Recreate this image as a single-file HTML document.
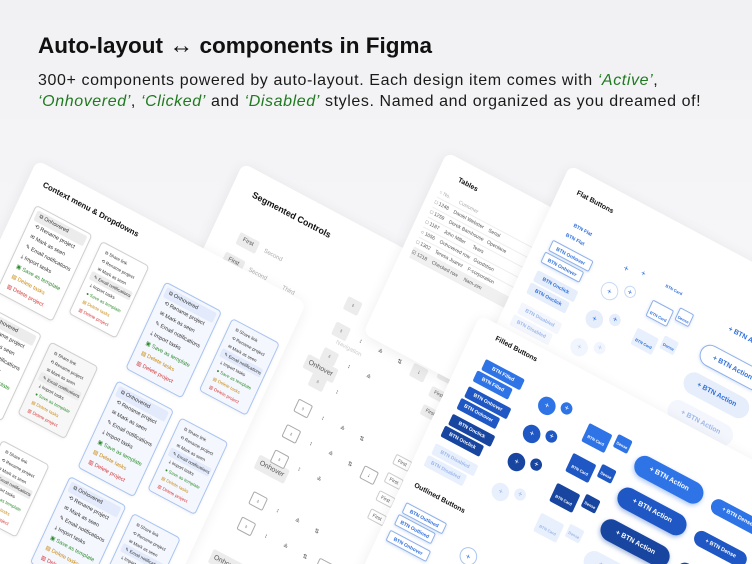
<!DOCTYPE html>
<html><head><meta charset="utf-8"><style>
*{margin:0;padding:0;box-sizing:border-box}
html,body{width:752px;height:564px;overflow:hidden}
body{background:linear-gradient(180deg,#f1f1f3 0%,#f6f6f8 45%,#fbfbfc 100%);font-family:"Liberation Sans",sans-serif;position:relative}
h1{position:absolute;left:38px;top:32px;font-size:22.5px;font-weight:bold;color:#111;letter-spacing:0px;white-space:nowrap}
h1 span{font-size:24px;font-weight:normal}
p.sub{position:absolute;left:38px;top:70px;font-size:16px;line-height:21px;color:#1a1a1a;width:714px;letter-spacing:0.6px;white-space:nowrap}
p.sub i{color:#1f7a1f}
.card{position:absolute;background:#fff;border-radius:8px;box-shadow:0 2px 14px rgba(0,0,0,.07);transform-origin:0 0;transform:matrix(0.883,0.469,-0.42,0.907,0,0);overflow:hidden}
.a{position:absolute}
.t{position:absolute;font-size:8px;font-weight:bold;color:#111;white-space:nowrap}
.m{position:absolute;border:1px solid #cfcfcf;border-radius:4px;background:#fff;padding:3px;font-size:5.5px;color:#333;box-shadow:0 1px 3px rgba(0,0,0,.06)}
.m div{height:11px;line-height:11px;padding-left:4px;white-space:nowrap}
.m .h{background:#ececec;border-radius:2px}
.mb{border-color:#a9c4f2;background:#f4f7fe}
.mb .h{background:#e2eafb}
.s .gr{color:#2e8b2e}.s .or{color:#c98a12}.s .rd{color:#d63a3a}
.m.sm{font-size:4.5px}.m.sm div{height:9px;line-height:9px}
.b{position:absolute;height:12px;line-height:12px;border-radius:2px;background:#2f74e6;color:#fff;font-size:5px;font-weight:bold;text-align:center;white-space:nowrap}
.b.d{background:#1f58c4}.b.dd{background:#17459f}
.b.l{background:#e9f0fd;color:#9db7ea}
.b.o{background:#fff;border:1px solid #8fb0e8;color:#2f6fdb;box-shadow:0 1px 3px rgba(47,111,219,.2)}
.b.f{background:none;color:#2f6fdb}
.p{border-radius:12px;height:22px;line-height:22px;font-size:7px}
.c{position:absolute;border-radius:50%;background:#2f74e6;color:#fff;font-size:8px;text-align:center}
.g{position:absolute;background:#ececec;border-radius:2px;font-size:6px;color:#555;text-align:center;line-height:13px}
.ic{position:absolute;width:16px;height:14px;border-radius:2px;font-size:6px;color:#555;text-align:center;line-height:14px}
.ic.k{background:#ececec}.ic.w{border:1px solid #aaa;background:#fff}
.tx{position:absolute;font-size:6px;color:#aaa;white-space:nowrap}
.row{position:absolute;left:10px;width:150px;height:11px;border-bottom:1px solid #eee;font-size:5px;color:#555;line-height:11px;white-space:nowrap}
</style></head><body>
<h1>Auto-layout <span>↔</span> components in Figma</h1>
<p class="sub">300+ components powered by auto-layout. Each design item comes with <i>‘Active’</i>,<br><i>‘Onhovered’</i>, <i>‘Clicked’</i> and <i>‘Disabled’</i> styles. Named and organized as you dreamed of!</p>

<!-- Segmented controls -->
<div class="card" style="left:243px;top:163px;width:310px;height:600px">
 <div class="t" style="left:22px;top:18px;font-size:9px">Segmented Controls</div>
 <div class="g" style="left:27px;top:62px;width:22px;height:13px">First</div><div class="tx" style="left:56px;top:65px">Second</div>
 <div class="g" style="left:22px;top:86px;width:22px;height:13px">First</div><div class="tx" style="left:50px;top:89px">Second</div><div class="tx" style="left:88px;top:89px">Third</div>
 <div class="tx" style="left:160px;top:112px;color:#ccc">Navigation</div>
 <div class="g" style="left:140px;top:138px;width:34px;height:15px;font-size:7px;line-height:15px">Onhover</div>
 <div class="g" style="left:138px;top:250px;width:34px;height:15px;font-size:7px;line-height:15px">Onhover</div>
 <div class="g" style="left:136px;top:355px;width:34px;height:15px;font-size:7px;line-height:15px">Onhover</div>
 <div class="ic k" style="left:152px;top:68px">♁</div><div class="ic" style="left:174px;top:68px">↕</div><div class="ic" style="left:196px;top:68px">≗</div><div class="ic" style="left:218px;top:68px">⇅</div>
 <div class="ic k" style="left:152px;top:96px">♁</div><div class="ic" style="left:174px;top:96px">↕</div><div class="ic" style="left:196px;top:96px">≗</div><div class="ic" style="left:218px;top:96px">⇅</div><div class="ic k" style="left:240px;top:96px">↓</div>
 <div class="ic k" style="left:152px;top:124px">♁</div><div class="ic" style="left:174px;top:124px">↕</div><div class="ic" style="left:196px;top:124px">≗</div>
 <div class="ic k" style="left:152px;top:152px">♁</div><div class="ic" style="left:174px;top:152px">↕</div>
 <div class="ic w" style="left:150px;top:182px">♁</div><div class="ic" style="left:172px;top:182px">↕</div><div class="ic" style="left:194px;top:182px">≗</div><div class="ic" style="left:216px;top:182px">⇅</div>
 <div class="ic w" style="left:150px;top:210px">♁</div><div class="ic" style="left:172px;top:210px">↕</div><div class="ic" style="left:194px;top:210px">≗</div><div class="ic" style="left:216px;top:210px">⇅</div><div class="ic w" style="left:238px;top:210px">↓</div>
 <div class="ic w" style="left:150px;top:238px">♁</div><div class="ic" style="left:172px;top:238px">↕</div><div class="ic" style="left:194px;top:238px">≗</div>
 <div class="ic w" style="left:148px;top:285px">♁</div><div class="ic" style="left:170px;top:285px">↕</div><div class="ic" style="left:192px;top:285px">≗</div><div class="ic" style="left:214px;top:285px">⇅</div>
 <div class="ic w" style="left:148px;top:313px">♁</div><div class="ic" style="left:170px;top:313px">↕</div><div class="ic" style="left:192px;top:313px">≗</div><div class="ic" style="left:214px;top:313px">⇅</div><div class="ic w" style="left:236px;top:313px">↓</div>
 <div class="g" style="left:266px;top:68px;width:18px;height:11px;line-height:11px;font-size:5px">First</div>
 <div class="g" style="left:266px;top:88px;width:18px;height:11px;line-height:11px;font-size:5px">First</div>
 <div class="g" style="left:266px;top:108px;width:18px;height:11px;line-height:11px;font-size:5px">First</div>
 <div class="g" style="left:266px;top:128px;width:18px;height:11px;line-height:11px;font-size:5px">First</div>
 <div class="g" style="left:262px;top:185px;width:18px;height:11px;line-height:11px;font-size:5px;background:#fff;border:1px solid #ccc">First</div>
 <div class="g" style="left:262px;top:205px;width:18px;height:11px;line-height:11px;font-size:5px;background:#fff;border:1px solid #ccc">First</div>
 <div class="g" style="left:262px;top:225px;width:18px;height:11px;line-height:11px;font-size:5px;background:#fff;border:1px solid #ccc">First</div>
 <div class="g" style="left:262px;top:245px;width:18px;height:11px;line-height:11px;font-size:5px;background:#fff;border:1px solid #ccc">First</div>
</div>

<!-- Context menu card -->
<div class="card" style="left:37px;top:160px;width:305px;height:640px">
 <div class="t" style="left:16px;top:14px">Context menu &amp; Dropdowns</div>
 <div class="m s" style="left:18px;top:40px;width:64px"><div class="h">⧉ Onhovered</div><div>⟲ Rename project</div><div>✉ Mark as seen</div><div>✎ Email notifications</div><div>⤓ Import tasks</div><div class="gr">▣ Save as template</div><div class="or">▤ Delete tasks</div><div class="rd">▥ Delete project</div></div>
 <div class="m s sm" style="left:93px;top:41px;width:54px"><div>⧉ Share link</div><div>⟲ Rename project</div><div>✉ Mark as seen</div><div class="h">✎ Email notifications</div><div>⤓ Import tasks</div><div class="gr">● Save as template</div><div class="or">▤ Delete tasks</div><div class="rd">▥ Delete project</div></div>
 <div class="m s mb" style="left:168px;top:47px;width:64px"><div class="h">⧉ Onhovered</div><div>⟲ Rename project</div><div>✉ Mark as seen</div><div>✎ Email notifications</div><div>⤓ Import tasks</div><div class="gr">▣ Save as template</div><div class="or">▤ Delete tasks</div><div class="rd">▥ Delete project</div></div>
 <div class="m s sm mb" style="left:244px;top:48px;width:54px"><div>⧉ Share link</div><div>⟲ Rename project</div><div>✉ Mark as seen</div><div class="h">✎ Email notifications</div><div>⤓ Import tasks</div><div class="gr">● Save as template</div><div class="or">▤ Delete tasks</div><div class="rd">▥ Delete project</div></div>
 <div class="m s" style="left:14px;top:152px;width:64px"><div class="h">⧉ Onhovered</div><div>⟲ Rename project</div><div>✉ Mark as seen</div><div>✎ Email notifications</div><div>⤓ Import tasks</div><div class="gr">▣ Save as template</div><div class="or">▤ Delete tasks</div><div class="rd">▥ Delete project</div></div>
 <div class="m s sm" style="left:89px;top:154px;width:54px;background:#f7f7f7"><div>⧉ Share link</div><div>⟲ Rename project</div><div>✉ Mark as seen</div><div class="h">✎ Email notifications</div><div>⤓ Import tasks</div><div class="gr">● Save as template</div><div class="or">▤ Delete tasks</div><div class="rd">▥ Delete project</div></div>
 <div class="m s mb" style="left:166px;top:157px;width:64px"><div class="h">⧉ Onhovered</div><div>⟲ Rename project</div><div>✉ Mark as seen</div><div>✎ Email notifications</div><div>⤓ Import tasks</div><div class="gr">▣ Save as template</div><div class="or">▤ Delete tasks</div><div class="rd">▥ Delete project</div></div>
 <div class="m s sm mb" style="left:239px;top:160px;width:54px"><div>⧉ Share link</div><div>⟲ Rename project</div><div>✉ Mark as seen</div><div class="h">✎ Email notifications</div><div>⤓ Import tasks</div><div class="gr">● Save as template</div><div class="or">▤ Delete tasks</div><div class="rd">▥ Delete project</div></div>
 <div class="m s sm" style="left:86px;top:264px;width:54px"><div>⧉ Share link</div><div>⟲ Rename project</div><div>✉ Mark as seen</div><div class="h">✎ Email notifications</div><div>⤓ Import tasks</div><div class="gr">● Save as template</div><div class="or">▤ Delete tasks</div><div class="rd">▥ Delete project</div></div>
 <div class="m s mb" style="left:163px;top:264px;width:64px"><div class="h">⧉ Onhovered</div><div>⟲ Rename project</div><div>✉ Mark as seen</div><div>✎ Email notifications</div><div>⤓ Import tasks</div><div class="gr">▣ Save as template</div><div class="or">▤ Delete tasks</div><div class="rd">▥ Delete project</div></div>
 <div class="m s sm mb" style="left:236px;top:267px;width:54px"><div>⧉ Share link</div><div>⟲ Rename project</div><div>✉ Mark as seen</div><div class="h">✎ Email notifications</div><div>⤓ Import tasks</div><div class="gr">● Save as template</div><div class="or">▤ Delete tasks</div><div class="rd">▥ Delete project</div></div>
</div>

<!-- Tables -->
<div class="card" style="left:447px;top:152px;width:170px;height:200px">
 <div class="t" style="left:22px;top:16px;font-size:7px">Tables</div>
 <div class="row" style="top:34px;color:#aaa">○ No. &nbsp;&nbsp;&nbsp;&nbsp;&nbsp; Customer</div>
 <div class="row" style="top:45px">□ 1248 &nbsp;&nbsp; Daniel Webster &nbsp;&nbsp; Serial</div>
 <div class="row" style="top:56px">□ 1259 &nbsp;&nbsp; Derek Barnhouse &nbsp; Openlane</div>
 <div class="row" style="top:67px">□ 1187 &nbsp;&nbsp; John Miller &nbsp;&nbsp;&nbsp;&nbsp; Tears</div>
 <div class="row" style="top:78px">○ 1056 &nbsp;&nbsp; Onhovered row &nbsp; Goodstion</div>
 <div class="row" style="top:89px">□ 1302 &nbsp;&nbsp; Teresa Juarez &nbsp;&nbsp; F-corporation</div>
 <div class="row" style="top:100px;background:#f0f0f0">☑ 1218 &nbsp;&nbsp; Checked row &nbsp;&nbsp;&nbsp; Nam-zim</div>
</div>

<!-- Flat buttons -->
<div class="card" style="left:570px;top:165px;width:300px;height:260px">
 <div class="t" style="left:18px;top:18px;font-size:7px">Flat Buttons</div>
 <div class="b f" style="left:22px;top:46px;width:34px">BTN Flat</div>
 <div class="b f" style="left:19px;top:58px;width:34px">BTN Flat</div>
 <div class="b o" style="left:16px;top:74px;width:46px">BTN Onhover</div>
 <div class="b o" style="left:14px;top:88px;width:44px">BTN Onhover</div>
 <div class="b l" style="left:15px;top:108px;width:46px;color:#2f6fdb;background:#e6eefc">BTN Onclick</div>
 <div class="b l" style="left:14px;top:122px;width:44px;color:#2f6fdb;background:#e6eefc">BTN Onclick</div>
 <div class="b l" style="left:14px;top:144px;width:46px;background:#f3f6fd">BTN Disabled</div>
 <div class="b l" style="left:12px;top:158px;width:44px;background:#f3f6fd">BTN Disabled</div>
 <div class="a" style="left:92px;top:60px;font-size:9px;color:#2f6fdb">+</div><div class="a" style="left:110px;top:57px;font-size:8px;color:#2f6fdb">+</div>
 <div class="c" style="left:80px;top:84px;width:18px;height:18px;line-height:18px;background:#fff;border:1px solid #c9d9f6;color:#2f6fdb">+</div>
 <div class="c" style="left:102px;top:78px;width:12px;height:12px;line-height:12px;background:#fff;border:1px solid #c9d9f6;color:#2f6fdb">+</div>
 <div class="c" style="left:78px;top:116px;width:18px;height:18px;line-height:18px;background:#e6eefc;color:#2f6fdb">+</div>
 <div class="c" style="left:100px;top:110px;width:12px;height:12px;line-height:12px;background:#e6eefc;color:#2f6fdb">+</div>
 <div class="c" style="left:76px;top:148px;width:18px;height:18px;line-height:18px;background:#f1f5fd;color:#b7cbf0">+</div>
 <div class="c" style="left:98px;top:142px;width:12px;height:12px;line-height:12px;background:#f1f5fd;color:#b7cbf0">+</div>
 <div class="b f" style="left:135px;top:50px;width:24px;height:18px;font-size:4px;line-height:24px">BTN Card</div>
 <div class="b o" style="left:132px;top:80px;width:24px;height:18px;font-size:4px;line-height:24px">BTN Card</div>
 <div class="b o" style="left:160px;top:74px;width:16px;height:14px;font-size:4px;line-height:18px">Dense</div>
 <div class="b l" style="left:130px;top:112px;width:24px;height:18px;font-size:4px;line-height:24px;color:#2f6fdb">BTN Card</div>
 <div class="b l" style="left:158px;top:106px;width:16px;height:14px;font-size:4px;line-height:18px;color:#2f6fdb">Dense</div>
 <div class="b f p" style="left:200px;top:60px;width:70px;font-size:7px">+ BTN Action</div>
 <div class="b o p" style="left:197px;top:92px;width:72px">+ BTN Action</div>
 <div class="b l p" style="left:194px;top:124px;width:72px;color:#2f6fdb;background:#e6eefc">+ BTN Action</div>
 <div class="b l p" style="left:191px;top:156px;width:72px;background:#f3f6fd">+ BTN Action</div>
</div>

<!-- Filled / outlined buttons -->
<div class="card" style="left:480px;top:315px;width:380px;height:320px">
 <div class="t" style="left:24px;top:10px;font-size:7px">Filled Buttons</div>
 <div class="b" style="left:24px;top:36px;width:44px">BTN Filled</div>
 <div class="b" style="left:21px;top:50px;width:40px">BTN Filled</div>
 <div class="b d" style="left:20px;top:68px;width:48px">BTN Onhover</div>
 <div class="b d" style="left:18px;top:82px;width:44px">BTN Onhover</div>
 <div class="b dd" style="left:17px;top:100px;width:48px">BTN Onclick</div>
 <div class="b dd" style="left:15px;top:114px;width:44px">BTN Onclick</div>
 <div class="b l" style="left:14px;top:134px;width:48px">BTN Disabled</div>
 <div class="b l" style="left:12px;top:148px;width:44px">BTN Disabled</div>
 <div class="t" style="left:12px;top:178px;font-size:7px">Outlined Buttons</div>
 <div class="b o" style="left:12px;top:200px;width:46px">BTN Outlined</div>
 <div class="b o" style="left:10px;top:214px;width:42px">BTN Outlined</div>
 <div class="b o" style="left:9px;top:232px;width:46px">BTN Onhover</div>
 <div class="c" style="left:90px;top:40px;width:18px;height:18px;line-height:18px">+</div>
 <div class="c" style="left:112px;top:36px;width:12px;height:12px;line-height:12px">+</div>
 <div class="c" style="left:88px;top:72px;width:18px;height:18px;line-height:18px;background:#1f58c4">+</div>
 <div class="c" style="left:110px;top:68px;width:12px;height:12px;line-height:12px;background:#1f58c4">+</div>
 <div class="c" style="left:86px;top:104px;width:18px;height:18px;line-height:18px;background:#17459f">+</div>
 <div class="c" style="left:108px;top:100px;width:12px;height:12px;line-height:12px;background:#17459f">+</div>
 <div class="c" style="left:84px;top:138px;width:18px;height:18px;line-height:18px;background:#e9f0fd;color:#9db7ea">+</div>
 <div class="c" style="left:106px;top:134px;width:12px;height:12px;line-height:12px;background:#e9f0fd;color:#9db7ea">+</div>
 <div class="c" style="left:82px;top:210px;width:18px;height:18px;line-height:18px;background:#fff;border:1px solid #a9c4f2;color:#2f6fdb">+</div>
 <div class="b" style="left:145px;top:44px;width:26px;height:20px;font-size:4px;line-height:26px">BTN Card</div>
 <div class="b" style="left:176px;top:40px;width:16px;height:14px;font-size:4px;line-height:18px">Dense</div>
 <div class="b d" style="left:143px;top:78px;width:26px;height:20px;font-size:4px;line-height:26px">BTN Card</div>
 <div class="b d" style="left:174px;top:74px;width:16px;height:14px;font-size:4px;line-height:18px">Dense</div>
 <div class="b dd" style="left:141px;top:112px;width:26px;height:20px;font-size:4px;line-height:26px">BTN Card</div>
 <div class="b dd" style="left:172px;top:108px;width:16px;height:14px;font-size:4px;line-height:18px">Dense</div>
 <div class="b l" style="left:139px;top:146px;width:26px;height:20px;font-size:4px;line-height:26px">BTN Card</div>
 <div class="b l" style="left:170px;top:142px;width:16px;height:14px;font-size:4px;line-height:18px">Dense</div>
 <div class="b p" style="left:203px;top:46px;width:76px;box-shadow:0 2px 5px rgba(47,116,230,.4)">+ BTN Action</div>
 <div class="b d p" style="left:201px;top:82px;width:76px;box-shadow:0 2px 5px rgba(31,88,196,.4)">+ BTN Action</div>
 <div class="b dd p" style="left:199px;top:118px;width:76px;box-shadow:0 2px 5px rgba(23,69,159,.4)">+ BTN Action</div>
 <div class="b l p" style="left:197px;top:154px;width:76px">+ BTN Action</div>
 <div class="b p" style="left:290px;top:50px;width:58px;height:16px;line-height:16px;font-size:5.5px">+ BTN Dense</div>
 <div class="b d p" style="left:288px;top:86px;width:58px;height:16px;line-height:16px;font-size:5.5px">+ BTN Dense</div>
 <div class="b dd p" style="left:286px;top:122px;width:58px;height:16px;line-height:16px;font-size:5.5px">+ BTN Dense</div>
</div>
</body></html>
